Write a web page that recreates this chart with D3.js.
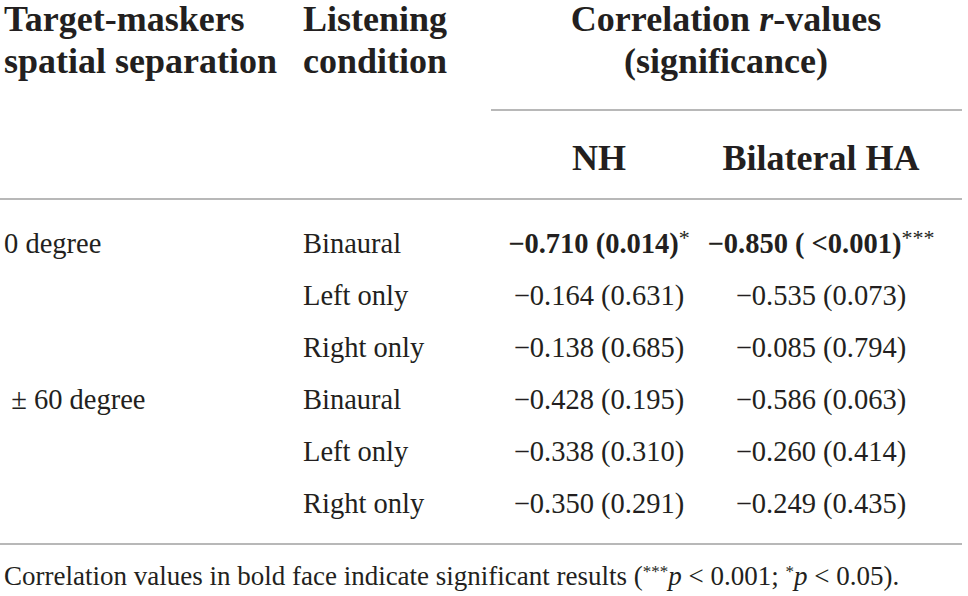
<!DOCTYPE html>
<html>
<head>
<meta charset="utf-8">
<script src="https://cdn.jsdelivr.net/npm/d3@7"></script>
<style>
  body { margin: 0; background: #fff; }
  svg { display: block; font-family: "Liberation Serif", "DejaVu Serif", serif; fill: #231f20; }
  .head { font-weight: bold; font-size: 36px; }
  .cell { font-size: 28.5px; }
  .note { font-size: 27px; }
  .rule { stroke: #a0a0a0; stroke-width: 1.5; }
</style>
</head>
<body>
<svg id="chart" width="968" height="596"></svg>
<script>
// table content
var separations = ["0 degree", "", "", "\u00a0\u00b1 60 degree", "", ""];
var conditions = ["Binaural", "Left only", "Right only", "Binaural", "Left only", "Right only"];
var nhR = [-0.710, -0.164, -0.138, -0.428, -0.338, -0.350];
var nhP = ["0.014", "0.631", "0.685", "0.195", "0.310", "0.291"];
var haR = [-0.850, -0.535, -0.085, -0.586, -0.260, -0.249];
var haP = [" <0.001", "0.073", "0.794", "0.063", "0.414", "0.435"];
var nhStars = ["*", "", "", "", "", ""];
var haStars = ["***", "", "", "", "", ""];
var groupHeaders = ["NH", "Bilateral HA"];

var svg = d3.select("#chart");
var fmt = d3.format(".3f");   // v7 uses the real minus sign

var rows = d3.range(conditions.length);
var y = d3.scaleBand().domain(rows).range([218, 530]);
var x = d3.scaleOrdinal()
  .domain(["sep", "cond", "nh", "ha"])
  .range([4, 303, 599, 821]);

// header
var h = svg.append("g").attr("class", "head");
h.append("text").attr("x", x("sep")).attr("y", 31).text("Target-maskers");
h.append("text").attr("x", x("sep")).attr("y", 73).text("spatial separation");
h.append("text").attr("x", x("cond")).attr("y", 31).text("Listening");
h.append("text").attr("x", x("cond")).attr("y", 73).text("condition");

var t = h.append("text").attr("x", 726).attr("y", 31).attr("text-anchor", "middle");
t.append("tspan").text("Correlation ");
t.append("tspan").attr("font-style", "italic").text("r");
t.append("tspan").text("-values");
h.append("text").attr("x", 726).attr("y", 73).attr("text-anchor", "middle").text("(significance)");

h.selectAll(".grp")
  .data(groupHeaders)
  .join("text")
  .attr("class", "grp")
  .attr("x", function(d, i) { return x(i ? "ha" : "nh"); })
  .attr("y", 170)
  .attr("text-anchor", "middle")
  .text(function(d) { return d; });

svg.append("line").attr("class", "rule").attr("x1", 491).attr("x2", 962).attr("y1", 110).attr("y2", 110);
svg.append("line").attr("class", "rule").attr("x1", 0).attr("x2", 962).attr("y1", 199).attr("y2", 199);
svg.append("line").attr("class", "rule").attr("x1", 0).attr("x2", 962).attr("y1", 544).attr("y2", 544);

// body rows
var body = svg.append("g").attr("class", "cell");
var row = body.selectAll("g.row")
  .data(rows)
  .join("g")
  .attr("class", "row")
  .attr("transform", function(i) { return "translate(0," + (y(i) + y.bandwidth() / 2 + 9) + ")"; });

row.append("text").attr("x", x("sep")).style("white-space", "pre")
  .text(function(i) { return separations[i]; });
row.append("text").attr("x", x("cond"))
  .text(function(i) { return conditions[i]; });

function valueCell(key, r, p, stars) {
  var txt = row.append("text")
    .attr("x", x(key))
    .attr("text-anchor", "middle")
    .style("white-space", "pre")
    .attr("font-weight", function(i) { return stars[i] ? "bold" : null; });
  txt.append("tspan").text(function(i) { return fmt(r[i]) + " (" + p[i] + ")"; });
  txt.append("tspan")
    .attr("font-weight", "normal")
    .attr("font-size", "22px")
    .attr("dy", -8)
    .text(function(i) { return stars[i]; });
}
valueCell("nh", nhR, nhP, nhStars);
valueCell("ha", haR, haP, haStars);

// footnote
var n = svg.append("text").attr("class", "note").attr("x", 4).attr("y", 585);
n.append("tspan").text("Correlation values in bold face indicate significant results (");
n.append("tspan").attr("font-size", "17px").attr("dy", -8).text("***");
n.append("tspan").attr("font-style", "italic").attr("dy", 8).text("p");
n.append("tspan").text(" < 0.001; ");
n.append("tspan").attr("font-size", "17px").attr("dy", -8).text("*");
n.append("tspan").attr("font-style", "italic").attr("dy", 8).text("p");
n.append("tspan").text(" < 0.05).");
</script>
</body>
</html>
